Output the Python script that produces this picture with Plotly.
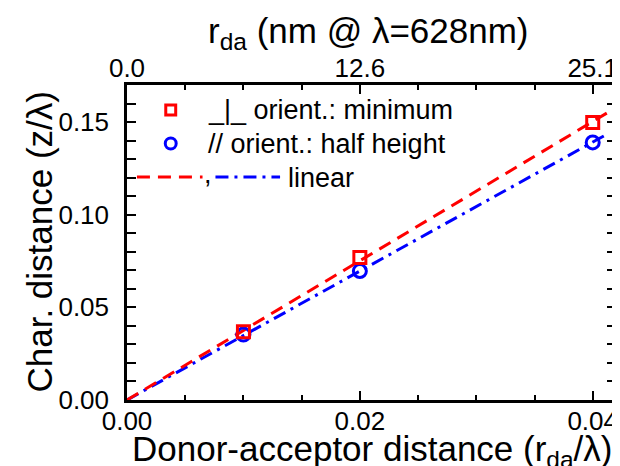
import plotly.graph_objects as go

# ---- data ----
x_vals = [0.01, 0.02, 0.04]
red_min = [0.0368, 0.0769, 0.1497]      # _|_ orient.: minimum
blue_half = [0.0353, 0.0696, 0.1390]    # // orient.: half height
red_fit_x = [0.0, 0.042]
red_fit_y = [0.0, 0.1578]
blue_fit_x = [0.0, 0.0413]
blue_fit_y = [0.0, 0.1437]

bottom_ticks = [0.0, 0.02, 0.04]
bottom_labels = ["0.00", "0.02", "0.04"]
top_labels = ["0.0", "12.6", "25.1"]
y_ticks = [0.0, 0.05, 0.10, 0.15]
y_labels = ["0.00", "0.05", "0.10", "0.15"]

x_title = "Donor-acceptor distance (r<sub>da</sub>/λ)"
top_title = "r<sub>da</sub> (nm @ λ=628nm)"
y_title = "Char. distance (z/λ)"

RED = "#ff0000"
BLUE = "#0000ff"
FONT = "Arial, Liberation Sans, sans-serif"
RED_DASH = "13px,8px"
BLUE_DASH = "13px,6px,3px,6px"

fig = go.Figure()
fig.add_trace(go.Scatter(x=blue_fit_x, y=blue_fit_y, mode="lines",
                         line=dict(color=BLUE, width=3, dash=BLUE_DASH),
                         showlegend=False))
fig.add_trace(go.Scatter(x=red_fit_x, y=red_fit_y, mode="lines",
                         line=dict(color=RED, width=3, dash=RED_DASH),
                         showlegend=False))
fig.add_trace(go.Scatter(x=x_vals, y=blue_half, mode="markers",
                         marker=dict(symbol="circle-open", size=13, color=BLUE,
                                     line=dict(width=3, color=BLUE)),
                         showlegend=False, cliponaxis=False))
fig.add_trace(go.Scatter(x=x_vals, y=red_min, mode="markers",
                         marker=dict(symbol="square-open", size=12, color=RED,
                                     line=dict(width=3, color=RED)),
                         showlegend=False, cliponaxis=False))
# invisible trace to activate top axis
fig.add_trace(go.Scatter(x=[0], y=[0], xaxis="x2", mode="markers",
                         marker=dict(opacity=0), showlegend=False, hoverinfo="skip"))

W, H = 620, 466
L, R, T, B = 119, 9, 77, 74
pw, ph = W - L - R, H - T - B


def px(xp):
    return (xp - L) / pw


def py(yp):
    return (H - B - yp) / ph


LEG_SIZE = 27
TITLE_SIZE = 35
shapes = []
annotations = []
# legend row 1: red square
shapes.append(dict(type="rect", xref="paper", yref="paper",
                   x0=px(158), x1=px(168), y0=py(107), y1=py(97),
                   line=dict(color=RED, width=3)))
annotations.append(dict(text="_|_ orient.: minimum", xref="paper", yref="paper",
                        x=px(198), y=py(102), xanchor="left", yanchor="middle",
                        showarrow=False, font=dict(size=LEG_SIZE, color="black", family=FONT)))
# legend row 2: blue circle
shapes.append(dict(type="circle", xref="paper", yref="paper",
                   x0=px(157.5), x1=px(168.5), y0=py(141), y1=py(130),
                   line=dict(color=BLUE, width=3)))
annotations.append(dict(text="// orient.: half height", xref="paper", yref="paper",
                        x=px(198), y=py(136), xanchor="left", yanchor="middle",
                        showarrow=False, font=dict(size=LEG_SIZE, color="black", family=FONT)))
# legend row 3: red dash , blue dash-dot  linear
shapes.append(dict(type="line", xref="paper", yref="paper",
                   x0=px(129), x1=px(195), y0=py(169), y1=py(169),
                   line=dict(color=RED, width=3, dash=RED_DASH)))
shapes.append(dict(type="line", xref="paper", yref="paper",
                   x0=px(208), x1=px(273), y0=py(169), y1=py(169),
                   line=dict(color=BLUE, width=3, dash=BLUE_DASH)))
annotations.append(dict(text=",", xref="paper", yref="paper",
                        x=px(200), y=py(166), xanchor="center", yanchor="middle",
                        showarrow=False, font=dict(size=LEG_SIZE, color="black", family=FONT)))
annotations.append(dict(text="linear", xref="paper", yref="paper",
                        x=px(279), y=py(170), xanchor="left", yanchor="middle",
                        showarrow=False, font=dict(size=LEG_SIZE, color="black", family=FONT)))

# axis titles as annotations (precise placement)
annotations.append(dict(text=x_title, xref="paper", yref="paper",
                        x=px(366), y=py(419), xanchor="center", yanchor="top",
                        showarrow=False, font=dict(size=TITLE_SIZE, color="black", family=FONT)))
annotations.append(dict(text=top_title, xref="paper", yref="paper",
                        x=px(362), y=py(1), xanchor="center", yanchor="top",
                        showarrow=False, font=dict(size=TITLE_SIZE, color="black", family=FONT)))
annotations.append(dict(text=y_title, xref="paper", yref="paper",
                        x=px(30), y=py(234), xanchor="center", yanchor="middle",
                        textangle=-90,
                        showarrow=False, font=dict(size=TITLE_SIZE, color="black", family=FONT)))

TICK_FONT = dict(size=26, color="black", family=FONT)
axis_common = dict(showline=True, linecolor="black", linewidth=2.5,
                   ticks="inside", ticklen=9, tickwidth=2, tickcolor="black",
                   showgrid=False, zeroline=False, tickfont=TICK_FONT)

fig.update_layout(
    width=W, height=H,
    margin=dict(l=L, r=R, t=T, b=B, pad=0),
    paper_bgcolor="white", plot_bgcolor="white",
    font=dict(family=FONT, color="black"),
    xaxis=dict(range=[0, 0.042], tickmode="array", tickvals=bottom_ticks,
               ticktext=bottom_labels, mirror="allticks", ticklabelstandoff=-4,
               minor=dict(dtick=0.005, tick0=0, ticklen=5, tickwidth=2,
                          tickcolor="black", ticks="inside"),
               **axis_common),
    xaxis2=dict(range=[0, 0.042], overlaying="x", side="top", tickmode="array",
                tickvals=bottom_ticks, ticktext=top_labels, showline=False,
                ticks="", showgrid=False, zeroline=False, tickfont=TICK_FONT,
                ticklabelstandoff=2),
    yaxis=dict(range=[0, 0.17], tickmode="array", tickvals=y_ticks, ticktext=y_labels,
               mirror="allticks", ticklabelstandoff=10,
               minor=dict(dtick=0.01, tick0=0, ticklen=5, tickwidth=2,
                          tickcolor="black", ticks="inside"),
               **axis_common),
    shapes=shapes, annotations=annotations,
)

fig.write_html("out.html")
